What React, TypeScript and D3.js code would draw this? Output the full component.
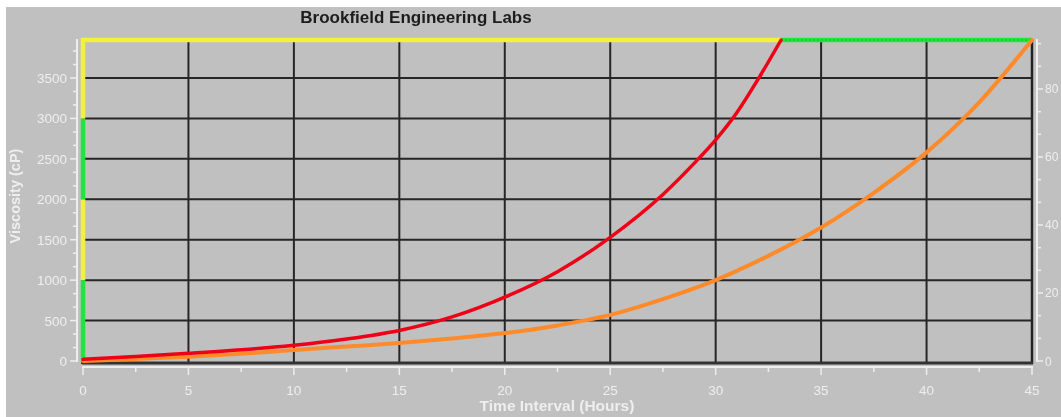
import React from 'react';
import * as d3 from 'd3';

// hours / viscosity readings (cP)
const redHours = [0, 2.5, 5, 7.5, 10, 12.5, 15, 17.5, 20, 22.5, 25, 27.5, 29, 30, 31, 32, 33.1];
const redCp = [20, 55, 95, 138, 195, 272, 378, 545, 790, 1105, 1530, 2060, 2450, 2735, 3070, 3480, 3970];

const orangeHours = [0, 2.5, 5, 7.5, 10, 12.5, 15, 17.5, 20, 22.5, 25, 27.5, 30, 32.5, 35, 37.5, 40, 42.5, 45];
const orangeCp = [0, 25, 53, 90, 136, 178, 222, 278, 345, 440, 570, 765, 1000, 1300, 1650, 2080, 2580, 3200, 3970];

// limit traces (yellow then green) drawn as segments
const yellowSegs = [
  [[0, 1000], [0, 2000]],
  [[0, 3000], [0, 3970], [33.1, 3970]],
];
const greenSegs = [
  [[0, 0], [0, 1000]],
  [[0, 2000], [0, 3000]],
  [[33.1, 3970], [45, 3970]],
];

const xTicks = [0, 5, 10, 15, 20, 25, 30, 35, 40, 45];
const yTicks = [0, 500, 1000, 1500, 2000, 2500, 3000, 3500];
const rightTicks = [0, 20, 40, 60, 80];

const W = 1061;
const H = 417;

export default function App() {
  const x = d3.scaleLinear().domain([0, 45]).range([83, 1032]);
  const y = d3.scaleLinear().domain([0, 3970]).range([361, 40]);
  const yR = d3.scaleLinear().domain([0, 94.4]).range([361, 40]);

  const line = d3
    .line<number[]>()
    .x((d) => x(d[0]))
    .y((d) => y(d[1]));
  const curve = d3
    .line<number[]>()
    .x((d) => x(d[0]))
    .y((d) => y(d[1]))
    .curve(d3.curveMonotoneX);

  const redPts = redHours.map((h, i) => [h, redCp[i]]);
  const orangePts = orangeHours.map((h, i) => [h, orangeCp[i]]);

  const xMinor = d3.range(2.5, 45, 5);
  const yMinor = d3.range(0, 3970, 500 / 3).filter((v) => Math.round(v) % 500 !== 0);
  const rMinor = d3.range(0, 94.4, 20 / 3).filter((v) => Math.round(v) % 20 !== 0);

  const light = '#eeeeee';
  const grid = '#262626';
  const font = 'Liberation Sans, Arial, sans-serif';

  return (
    <svg
      width={W}
      height={H}
      style={{ position: 'absolute', left: 0, top: 0, display: 'block', background: '#fff' }}
    >
      <defs>
        <filter id="soft" x="-5%" y="-5%" width="110%" height="110%">
          <feGaussianBlur stdDeviation="0.55" />
        </filter>
      </defs>
      <g filter="url(#soft)">
        <rect x={6} y={7} width={W - 6} height={H - 7} fill="#c0c0c0" />

        <text x={416} y={23} textAnchor="middle" fontFamily={font} fontWeight="bold" fontSize={17} fill="#1a1a1a">
          Brookfield Engineering Labs
        </text>

        {/* grid */}
        {xTicks.slice(1, -1).map((t) => (
          <line key={'gx' + t} x1={x(t)} x2={x(t)} y1={42} y2={362} stroke={grid} strokeWidth={2} />
        ))}
        {yTicks.slice(1).map((t) => (
          <line key={'gy' + t} x1={83} x2={1032} y1={y(t)} y2={y(t)} stroke={grid} strokeWidth={2} />
        ))}

        {/* frame */}
        <line x1={82} x2={82} y1={40} y2={364} stroke="#333" strokeWidth={2} />
        <line x1={1032} x2={1032} y1={40} y2={364} stroke="#222" strokeWidth={2.5} />
        <line x1={82} x2={1033} y1={363} y2={363} stroke="#333" strokeWidth={3} />

        {/* left axis */}
        <line x1={77} x2={77} y1={39} y2={362} stroke={light} strokeWidth={2} />
        {yTicks.map((t) => (
          <g key={'yt' + t}>
            <line x1={70} x2={77} y1={y(t)} y2={y(t)} stroke={light} strokeWidth={1.5} />
            <text x={67} y={y(t) + 5} textAnchor="end" fontFamily={font} fontSize={13.5} fill={light}>
              {t}
            </text>
          </g>
        ))}
        {yMinor.map((t) => (
          <line key={'ym' + t} x1={73} x2={77} y1={y(t)} y2={y(t)} stroke={light} strokeWidth={1.5} />
        ))}
        <text
          transform={`translate(20,196) rotate(-90)`}
          textAnchor="middle"
          fontFamily={font}
          fontWeight="bold"
          fontSize={14.5}
          fill={light}
        >
          Viscosity (cP)
        </text>

        {/* bottom axis */}
        <line x1={82} x2={1033} y1={367} y2={367} stroke={light} strokeWidth={2} />
        {xTicks.map((t) => (
          <g key={'xt' + t}>
            <line x1={x(t)} x2={x(t)} y1={367} y2={375} stroke={light} strokeWidth={1.5} />
            <text x={x(t)} y={395} textAnchor="middle" fontFamily={font} fontSize={13.5} fill={light}>
              {t}
            </text>
          </g>
        ))}
        {xMinor.map((t) => (
          <line key={'xm' + t} x1={x(t)} x2={x(t)} y1={367} y2={372} stroke={light} strokeWidth={1.5} />
        ))}
        <text x={557} y={411} textAnchor="middle" fontFamily={font} fontWeight="bold" fontSize={15.5} fill={light}>
          Time Interval (Hours)
        </text>

        {/* right axis */}
        <line x1={1037} x2={1037} y1={39} y2={362} stroke={light} strokeWidth={2} />
        {rightTicks.map((t) => (
          <g key={'rt' + t}>
            <line x1={1037} x2={1043} y1={yR(t)} y2={yR(t)} stroke={light} strokeWidth={1.5} />
            <text x={1045} y={yR(t) + 4.5} fontFamily={font} fontSize={12} fill={light}>
              {t}
            </text>
          </g>
        ))}
        {rMinor.map((t) => (
          <line key={'rm' + t} x1={1037} x2={1041} y1={yR(t)} y2={yR(t)} stroke={light} strokeWidth={1.5} />
        ))}

        {/* traces */}
        {greenSegs.map((s, i) => (
          <path key={'g' + i} d={line(s) || ''} fill="none" stroke="#1ee83a" strokeWidth={4.5} />
        ))}
        {yellowSegs.map((s, i) => (
          <path key={'yl' + i} d={line(s) || ''} fill="none" stroke="#f2f23c" strokeWidth={4.5} />
        ))}
        <path d={line(greenSegs[2]) || ''} fill="none" stroke="#12b82a" strokeWidth={1.2} strokeDasharray="2,2" />
        <path d={curve(orangePts) || ''} fill="none" stroke="#ff8a2a" strokeWidth={4} strokeLinecap="round" />
        <path d={curve(redPts) || ''} fill="none" stroke="#ee0018" strokeWidth={3.5} strokeLinecap="round" />
      </g>
    </svg>
  );
}
